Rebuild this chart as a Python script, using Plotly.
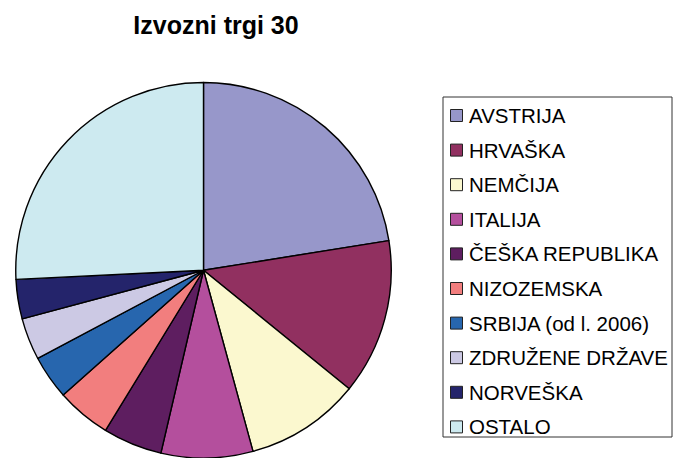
import plotly.graph_objects as go

W, H = 673, 458

categories = ["AVSTRIJA", "HRVAŠKA", "NEMČIJA", "ITALIJA", "ČEŠKA REPUBLIKA",
              "NIZOZEMSKA", "SRBIJA (od l. 2006)", "ZDRUŽENE DRŽAVE", "NORVEŠKA", "OSTALO"]
values = [22.5, 13.4, 9.9, 7.9, 5.1, 4.7, 3.8, 3.6, 3.4, 25.8]
colors = ["#9797CA", "#913060", "#FBF8CF", "#B44F9D", "#5E1E60",
          "#F27E7E", "#2766AE", "#CCC9E4", "#24246B", "#CDEAF0"]

fig = go.Figure()
fig.add_trace(go.Pie(
    labels=categories, values=values, sort=False, direction="clockwise", rotation=0,
    marker=dict(colors=colors, line=dict(color="#000000", width=1.4)),
    textinfo="none", hoverinfo="label+percent", showlegend=False,
    domain=dict(x=[15.5 / W, 391.5 / W], y=[0, 1 - 82.5 / H]),
))

# Legend box (manual, to match layout)
shapes = [dict(type="rect", xref="paper", yref="paper",
               x0=443 / W, x1=672 / W, y0=1 - 437 / H, y1=1 - 97 / H,
               line=dict(color="#333333", width=1), fillcolor="rgba(0,0,0,0)")]
annotations = []
y_first, step = 115.5, 34.6
for i, (cat, col) in enumerate(zip(categories, colors)):
    yc = y_first + i * step
    shapes.append(dict(type="rect", xref="paper", yref="paper",
                       x0=450.5 / W, x1=462.5 / W, y0=1 - (yc + 6) / H, y1=1 - (yc - 6) / H,
                       line=dict(color="#222222", width=1), fillcolor=col))
    annotations.append(dict(text=cat, xref="paper", yref="paper", x=466.5 / W, y=1 - yc / H,
                            xanchor="left", yanchor="middle", showarrow=False,
                            font=dict(family="Liberation Sans, Arial", size=20.5, color="#000000")))

fig.update_layout(
    width=W, height=H,
    margin=dict(l=0, r=0, t=0, b=0),
    paper_bgcolor="#FFFFFF", plot_bgcolor="#FFFFFF",
    title=dict(text="<b>Izvozni trgi 30</b>", x=216 / W, xanchor="center",
               y=1 - 25 / H, yanchor="middle",
               font=dict(family="Liberation Sans, Arial", size=25, color="#000000")),
    shapes=shapes, annotations=annotations,
)

fig.write_html("out.html", config={"displayModeBar": False},
               post_script="document.body.style.margin='0';document.body.style.overflow='hidden';")
